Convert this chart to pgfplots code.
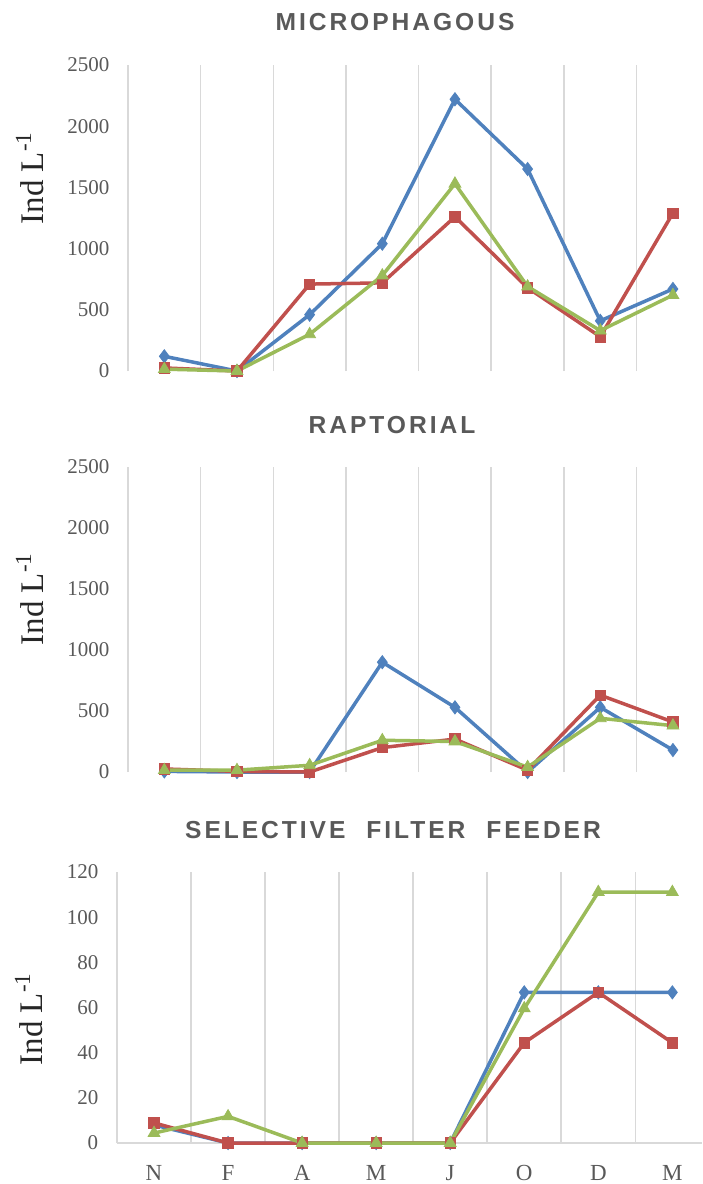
\documentclass[border=0pt]{standalone}
\usepackage{fontspec}
\setmainfont{Liberation Serif}
\newfontfamily\titlefont[LetterSpace=12]{Liberation Sans}
\usepackage{pgfplots}
\pgfplotsset{compat=1.18}
\definecolor{cblue}{HTML}{4F81BD}
\definecolor{cred}{HTML}{C0504D}
\definecolor{cgreen}{HTML}{9BBB59}
\definecolor{gridc}{HTML}{D9D9D9}
\definecolor{tickc}{HTML}{595959}
\definecolor{labc}{HTML}{262626}

\pgfplotsset{
  panel/.style={
    scale only axis, clip=false,
    xmin=-0.5, xmax=7.4, ymin=0,
    axis x line=bottom, axis y line=left,
    axis line style={draw=gridc, line width=0.8pt, -},
    xtick={0,...,7},
    minor xtick={0.5,1.5,...,6.5},
    xminorgrids=true,
    minor grid style={draw=gridc, line width=0.8pt},
    major tick length=0pt, minor tick length=0pt,
    tick style={draw=none},
    /pgf/number format/1000 sep={},
    /pgf/number format/assume math mode=true,
    yticklabel style={font=\fontsize{10.5}{12}\selectfont, color=tickc, inner xsep=0pt, xshift=-8.5pt},
    xticklabel style={font=\fontsize{11.5}{13}\selectfont, color=tickc, inner ysep=0pt, yshift=-10.5pt},
    line width=1.75pt,
  },
  sb/.style={cblue, mark=diamond*, mark size=3.3pt, mark options={solid, line width=0.4pt}},
  sr/.style={cred, mark=square*, mark size=2.6pt, mark options={solid, line width=0.4pt}},
  sg/.style={cgreen, mark=triangle*, mark size=3.4pt, mark options={solid, line width=0.4pt}},
}
\tikzset{
  ylab/.style={rotate=90, font=\fontsize{16.5}{18}\selectfont, color=labc},
  ttl/.style={font=\titlefont\bfseries\fontsize{12.3}{14}\selectfont, color=tickc},
}

\begin{document}
\begin{tikzpicture}
\useasboundingbox (0,0) rectangle (351pt,-592pt);

% ---------- Panel 1 ----------
\begin{axis}[panel, at={(64pt,-32.5pt)}, anchor=north west,
  width=287pt, height=153pt, ymax=2500, ytick={0,500,...,2500},
  xticklabels={}, x axis line style={draw=none}]
\addplot[sb] coordinates {(0,120) (1,0) (2,460) (3,1040) (4,2220) (5,1650) (6,410) (7,670)};
\addplot[sr] coordinates {(0,25) (1,0) (2,710) (3,720) (4,1260) (5,680) (6,280) (7,1290)};
\addplot[sg] coordinates {(0,15) (1,0) (2,300) (3,780) (4,1530) (5,690) (6,330) (7,620)};
\end{axis}
\node[ylab] at (15pt,-89pt) {Ind L\textsuperscript{-1}};
\node[ttl] at (197.5pt,-11pt) {MICROPHAGOUS};

% ---------- Panel 2 ----------
\begin{axis}[panel, at={(64pt,-233.5pt)}, anchor=north west,
  width=287pt, height=152.5pt, ymax=2500, ytick={0,500,...,2500},
  xticklabels={}, x axis line style={draw=none}]
\addplot[sb] coordinates {(0,5) (1,0) (2,0) (3,900) (4,530) (5,0) (6,530) (7,180)};
\addplot[sr] coordinates {(0,25) (1,5) (2,0) (3,200) (4,270) (5,15) (6,630) (7,410)};
\addplot[sg] coordinates {(0,15) (1,15) (2,55) (3,260) (4,250) (5,40) (6,440) (7,380)};
\end{axis}
\node[ylab] at (15pt,-299.5pt) {Ind L\textsuperscript{-1}};
\node[ttl] at (196pt,-212.5pt) {RAPTORIAL};

% ---------- Panel 3 ----------
\begin{axis}[panel, at={(58.5pt,-436pt)}, anchor=north west,
  width=292.5pt, height=135.5pt, ymax=120, ytick={0,20,...,120},
  xticklabels={N,F,A,M,J,O,D,M}]
\addplot[sb] coordinates {(0,8) (1,0) (2,0) (3,0) (4,0) (5,66.7) (6,66.7) (7,66.7)};
\addplot[sr] coordinates {(0,8.9) (1,0) (2,0) (3,0) (4,0) (5,44.4) (6,66.7) (7,44.4)};
\addplot[sg] coordinates {(0,4.4) (1,11.8) (2,0) (3,0) (4,0) (5,59.6) (6,111.1) (7,111.1)};
\end{axis}
\node[ylab] at (14.5pt,-509.5pt) {Ind L\textsuperscript{-1}};
\node[ttl] at (196.5pt,-415pt) {SELECTIVE\hspace{0.85em}FILTER\hspace{0.85em}FEEDER};
\end{tikzpicture}
\end{document}
